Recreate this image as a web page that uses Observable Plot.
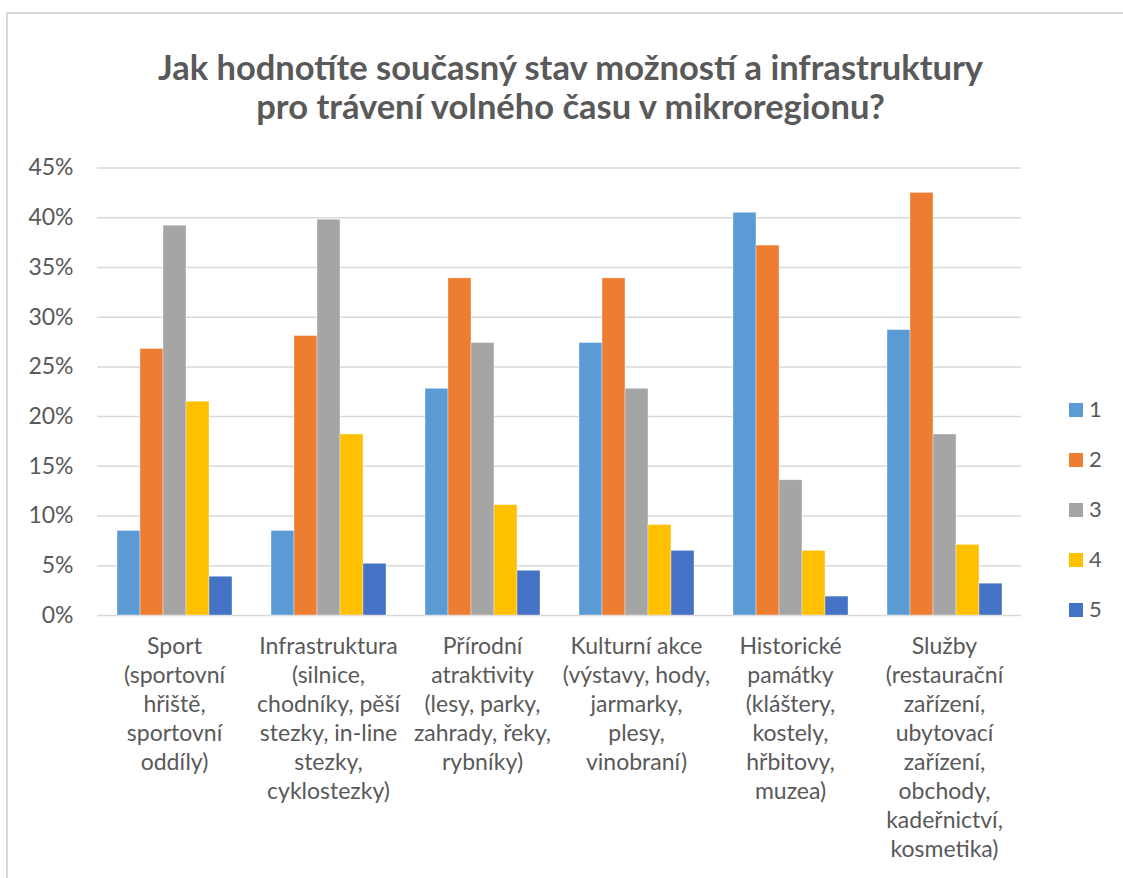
<!DOCTYPE html>
<html>
<head>
<meta charset="utf-8">
<script src="https://cdn.jsdelivr.net/npm/d3@7"></script>
<script src="https://cdn.jsdelivr.net/npm/@observablehq/plot@0.6"></script>
<style>
  html, body { margin: 0; padding: 0; background: #fff; }
  #wrap { position: relative; width: 1123px; height: 878px; overflow: hidden; font-family: Lato, "Open Sans", sans-serif; }
  #border { position: absolute; left: 6px; top: 12px; width: 1200px; height: 1000px; border-left: 2px solid #d9d9d9; border-top: 2px solid #d9d9d9; }
  #title { position: absolute; left: 0; top: 47px; width: 1141px; text-align: center; font-weight: bold; font-size: 34.5px; line-height: 39px; color: #595959; }
  #grid, #chart { position: absolute; left: 0; top: 140px; }
  #legend { position: absolute; left: 1069px; top: 402px; }
  .li { position: relative; height: 50px; }
  .sw { position: absolute; left: 0; top: 1px; width: 14px; height: 14px; }
  .lt { position: absolute; left: 20px; top: -5px; font-size: 22px; color: #595959; line-height: 24px; }
</style>
</head>
<body>
<div id="wrap">
  <div id="border"></div>
  <div id="title">Jak hodnotíte současný stav možností a infrastruktury<br>pro trávení volného času v mikroregionu?</div>
  <div id="grid"></div>
  <div id="chart"></div>
  <div id="legend"></div>
</div>
<script>
const categories = ["Sport", "Infrastruktura", "Přírodní atraktivity", "Kulturní akce", "Historické památky", "Služby"];
const categoryLabels = [
  "Sport\n(sportovní\nhřiště,\nsportovní\noddíly)",
  "Infrastruktura\n(silnice,\nchodníky, pěší\nstezky, in-line\nstezky,\ncyklostezky)",
  "Přírodní\natraktivity\n(lesy, parky,\nzahrady, řeky,\nrybníky)",
  "Kulturní akce\n(výstavy, hody,\njarmarky,\nplesy,\nvinobraní)",
  "Historické\npamátky\n(kláštery,\nkostely,\nhřbitovy,\nmuzea)",
  "Služby\n(restaurační\nzařízení,\nubytovací\nzařízení,\nobchody,\nkadeřnictví,\nkosmetika)"
];
const seriesNames = ["1", "2", "3", "4", "5"];
const seriesColors = ["#5B9BD5", "#ED7D31", "#A5A5A5", "#FFC000", "#4472C4"];
const values1 = [8.5, 8.5, 22.8, 27.4, 40.5, 28.7];
const values2 = [26.8, 28.1, 33.9, 33.9, 37.2, 42.5];
const values3 = [39.2, 39.8, 27.4, 22.8, 13.6, 18.2];
const values4 = [21.5, 18.2, 11.1, 9.1, 6.5, 7.1];
const values5 = [3.9, 5.2, 4.5, 6.5, 1.9, 3.2];
const yTicks = [0, 0.05, 0.10, 0.15, 0.20, 0.25, 0.30, 0.35, 0.40, 0.45];

const allValues = [values1, values2, values3, values4, values5];
const data = categories.flatMap((c, i) => seriesNames.map((s, j) => ({category: c, series: s, value: allValues[j][i] / 100})));
const labelOf = new Map(categories.map((c, i) => [c, categoryLabels[i]]));

const frame = {
  width: 1123,
  height: 738,
  marginTop: 27.5,
  marginBottom: 263,
  marginLeft: 97,
  marginRight: 102,
  style: {fontFamily: "Lato, 'Open Sans', sans-serif", fontSize: "23px", background: "transparent", overflow: "visible"}
};

// background: gridlines and y axis across the whole plot area
const grid = Plot.plot({
  ...frame,
  x: {axis: null},
  y: {domain: [0, 0.45], label: null, axis: null},
  marks: [
    Plot.ruleY(yTicks, {stroke: "#d9d9d9", strokeWidth: 1.5}),
    Plot.axisY({ticks: yTicks, tickSize: 0, tickPadding: 24, fontSize: 23, fill: "#595959", label: null,
      tickFormat: d => Math.round(d * 100) + "%"})
  ]
});
document.getElementById("grid").appendChild(grid);

// foreground: grouped bars
const chart = Plot.plot({
  ...frame,
  fx: {domain: categories, paddingInner: 0.234, paddingOuter: 0.117, label: null, axis: null},
  x: {domain: seriesNames, padding: 0, axis: null},
  y: {domain: [0, 0.45], label: null, axis: null},
  color: {domain: seriesNames, range: seriesColors},
  marks: [
    Plot.barY(data, {fx: "category", x: "series", y: "value", fill: "series", stroke: "white", strokeWidth: 0.6, strokeOpacity: 0.6}),
    Plot.axisFx({anchor: "bottom", tickSize: 0, tickPadding: 18, fontSize: 23, fill: "#595959", lineHeight: 1.26, label: null,
      tickFormat: c => labelOf.get(c)})
  ]
});
document.getElementById("chart").appendChild(chart);

const legend = document.getElementById("legend");
seriesNames.forEach((s, i) => {
  const li = document.createElement("div");
  li.className = "li";
  li.innerHTML = `<div class="sw" style="background:${seriesColors[i]}"></div><div class="lt">${s}</div>`;
  legend.appendChild(li);
});
</script>
</body>
</html>
